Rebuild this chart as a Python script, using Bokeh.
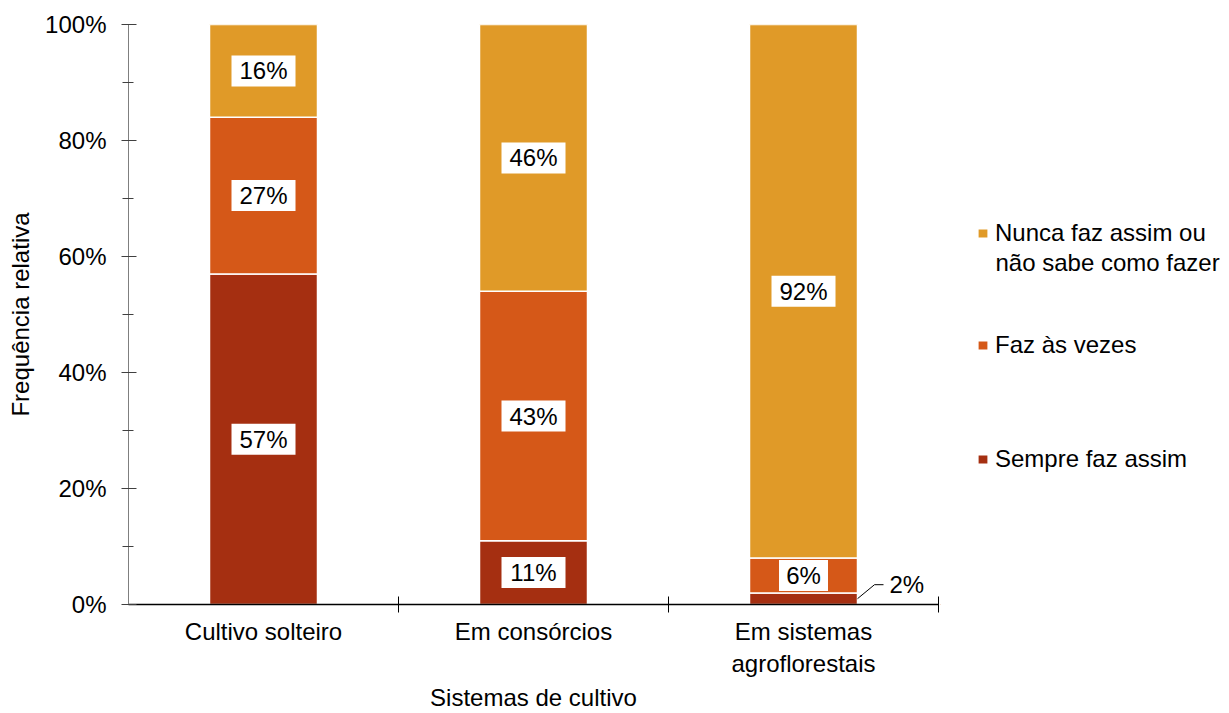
from bokeh.plotting import figure
from bokeh.layouts import row
from bokeh.models import Range1d, FixedTicker, Legend, LegendItem, ColumnDataSource, Label
from bokeh.embed import file_html
from bokeh.resources import INLINE
from bokeh.core.properties import value

# ---- data ----
categories = ["Cultivo solteiro", "Em consórcios", "Em sistemas\nagroflorestais"]
sempre = [57, 11, 2]
as_vezes = [27, 43, 6]
nunca = [16, 46, 92]
series_keys = ["sempre", "as_vezes", "nunca"]
series_names = ["Sempre faz assim", "Faz às vezes", "Nunca faz assim ou\nnão sabe como fazer"]
colors = ["#A52F11", "#D55818", "#E09A28"]
y_ticks = [0, 20, 40, 60, 80, 100]
y_minor = [10, 30, 50, 70, 90]
y_tick_labels = ["0%", "20%", "40%", "60%", "80%", "100%"]
x_title = "Sistemas de cultivo"
y_title = "Frequência relativa"

FONT = "Liberation Sans"
FS = "24px"

W, H = 940, 713
ML, MR, MT, MB = 128, 2, 24, 109
FW, FH = W - ML - MR, H - MT - MB
n = len(categories)
xs = [i + 0.5 for i in range(n)]
bar_w = 0.4

p = figure(width=W, height=H, output_backend="svg", toolbar_location=None,
           x_range=Range1d(0, n), y_range=Range1d(0, 100),
           min_border_left=ML, min_border_right=MR, min_border_top=MT, min_border_bottom=MB)
p.outline_line_color = None
p.grid.visible = False

src = ColumnDataSource(dict(x=xs, sempre=sempre, as_vezes=as_vezes, nunca=nunca))
rends = p.vbar_stack(series_keys, x="x", width=bar_w, color=colors, source=src,
                     line_color="white", line_width=1.5)

# ---- data labels ----
lx, ly, lt, lw = [], [], [], []
callouts = []
for ci in range(n):
    base = 0
    for vals in (sempre, as_vezes, nunca):
        v = vals[ci]
        mid = base + v / 2
        txt = f"{v}%"
        if v < 4:
            callouts.append((xs[ci], mid, txt))
        else:
            lx.append(xs[ci]); ly.append(mid); lt.append(txt); lw.append(19 + 15 * len(txt))
        base += v
lsrc = ColumnDataSource(dict(x=lx, y=ly, t=lt, w=lw))
p.rect(x="x", y="y", width="w", height=31, width_units="screen", height_units="screen",
       fill_color="white", line_color=None, source=lsrc)
p.text(x="x", y="y", text="t", text_align="center", text_baseline="middle",
       text_font=value(FONT), text_font_size=FS, text_color="black", source=lsrc)

px_x = FW / n        # px per x unit
px_y = FH / 100.0    # px per percent
for (cx, mid, txt) in callouts:
    x0 = cx + bar_w / 2
    x1 = x0 + 17 / px_x
    x2 = x1 + 9 / px_x
    y1 = mid + 14 / px_y
    p.line([x0, x1, x2], [mid, y1, y1], line_color="black", line_width=1)
    p.add_layout(Label(x=x2, y=y1, x_offset=6, text=txt, text_align="left",
                       text_baseline="middle", text_font=FONT, text_font_size=FS,
                       text_color="black"))

# ---- axes ----
ya = p.yaxis[0]
ya.ticker = FixedTicker(ticks=y_ticks, minor_ticks=y_minor)
ya.major_label_overrides = {t: l for t, l in zip(y_ticks, y_tick_labels)}
ya.axis_line_color = "#7F7F7F"
ya.major_tick_line_color = "#404040"
ya.minor_tick_line_color = "#404040"
ya.major_tick_in = 8
ya.major_tick_out = 7
ya.minor_tick_in = 5
ya.minor_tick_out = 6
ya.major_label_standoff = 15
ya.major_label_text_font = FONT
ya.major_label_text_font_size = FS
ya.major_label_text_color = "black"
ya.axis_label = y_title
ya.axis_label_text_font = FONT
ya.axis_label_text_font_size = FS
ya.axis_label_text_font_style = "normal"
ya.axis_label_text_color = "black"
ya.axis_label_standoff = 8

xa = p.xaxis[0]
xa.ticker = FixedTicker(ticks=xs, minor_ticks=[float(i) for i in range(1, n + 1)])
xa.major_label_overrides = {x: c for x, c in zip(xs, categories)}
xa.axis_line_color = "black"
xa.axis_line_width = 1.5
xa.major_tick_line_color = None
xa.major_tick_in = 0
xa.major_tick_out = 0
xa.minor_tick_line_color = "black"
xa.minor_tick_in = 8
xa.minor_tick_out = 8
xa.major_label_standoff = 5
xa.major_label_text_font = FONT
xa.major_label_text_font_size = FS
xa.major_label_text_color = "black"
xa.axis_label = x_title
xa.axis_label_text_font = FONT
xa.axis_label_text_font_size = FS
xa.axis_label_text_font_style = "normal"
xa.axis_label_text_color = "black"
xa.axis_label_standoff = 4

# ---- legend panel (separate figure at right; its frame aligns with the main frame) ----
LW = 1229 - W
pl = figure(width=LW, height=H, output_backend="svg", toolbar_location=None,
            x_range=Range1d(0, 1), y_range=Range1d(0, 1),
            min_border_left=0, min_border_right=0, min_border_top=0, min_border_bottom=0)
pl.axis.visible = False
pl.grid.visible = False
pl.outline_line_color = None
# key swatches only: their single point lies outside the visible range
leg_rends = [pl.vbar(x=[-10], top=[-10], bottom=[-11], width=0.1, fill_color=c, line_color=None)
             for c in colors]

# Excel-style: the key swatch sits on the first line of a wrapped label
leg_pos = {2: (37, 357), 1: (37, 245), 0: (37, 131)}
for i in (2, 1, 0):
    lines = series_names[i].split("\n")
    leg = Legend(items=[LegendItem(label=lines[0], renderers=[leg_rends[i]])],
                 location=leg_pos[i], glyph_width=11, glyph_height=10, label_standoff=7,
                 padding=0, margin=0, border_line_color=None, background_fill_alpha=0,
                 label_text_font=FONT, label_text_font_size=FS, label_text_color="black")
    pl.add_layout(leg)
    for k, extra in enumerate(lines[1:], start=1):
        pl.add_layout(Label(x=leg_pos[i][0] + 11 + 7, y=leg_pos[i][1] + 14 - 29 * k,
                            x_units="screen", y_units="screen", text=extra,
                            text_align="left", text_baseline="middle",
                            text_font=FONT, text_font_size=FS, text_color="black"))

layout = row(p, pl, spacing=0)
open("out.html", "w").write(file_html(layout, INLINE))
